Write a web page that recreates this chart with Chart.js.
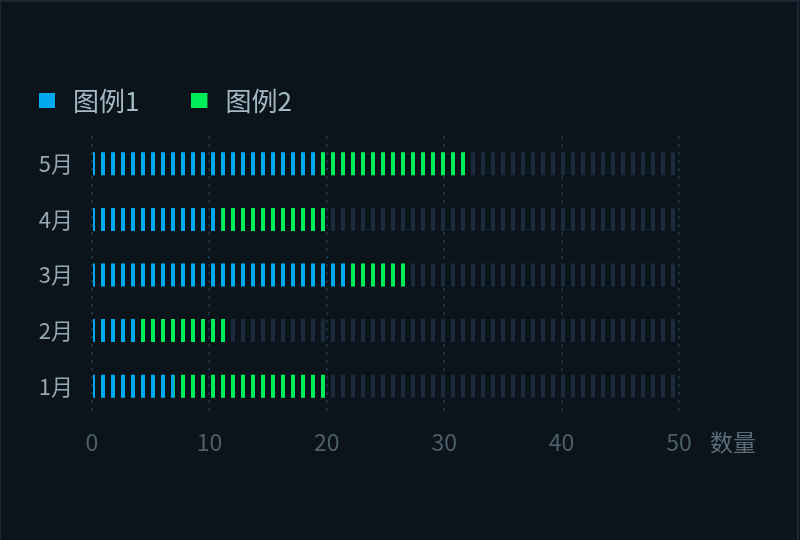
<!DOCTYPE html>
<html>
<head>
<meta charset="utf-8">
<script src="https://cdn.jsdelivr.net/npm/chart.js@4/dist/chart.umd.min.js"></script>
<style>
html,body{margin:0;padding:0;background:#0b141b;overflow:hidden}
#wrap{width:800px;height:540px;position:relative}
canvas{display:block}
</style>
</head>
<body>
<div id="wrap"><canvas id="c" width="800" height="540"></canvas></div>
<script>
// ---- data ----
const categories = ['1月', '2月', '3月', '4月', '5月'];
const series1 = [7, 4, 22, 11, 19];
const series2 = [13, 7.5, 5, 9, 13];
const capacity = [50, 50, 50, 50, 50];
const seriesNames = ['图例1', '图例2'];
const capacityName = '总量';
const xTickMin = 0;
const xTickMax = 50;
const xTickStep = 10;
const axisName = '数量';

// ---- styles ----
const FONT = '"Noto Sans CJK SC", "Noto Sans", sans-serif';
const BG = '#0b141b';
const FRAME = '#1a2735';
const BLUE = '#00a9ee';
const GREEN = '#00ee5a';
const TRACK = '#1b2b3c';
const GRID = '#1f2d3b';
const LEGEND_TEXT = '#a6bac6';
const Y_TEXT = '#95a8b3';
const X_TEXT = '#4d5f6b';
const NAME_TEXT = '#5b6c78';
const STRIPE_PERIOD = 10;
const STRIPE_W = 4;
const PAD = {left: -13, top: 36, right: 121, bottom: 0};
const LEGEND_FONT = 26;
const LEGEND_GAP = 52;

Chart.defaults.font.family = FONT;

const patternCache = {};
function stripes(chart, color) {
  const left = chart.chartArea ? chart.chartArea.left : 0;
  const key = color + '@' + left;
  if (!patternCache[key]) {
    const c = document.createElement('canvas');
    c.width = STRIPE_PERIOD; c.height = 4;
    const g = c.getContext('2d');
    g.fillStyle = color;
    g.fillRect(0, 0, STRIPE_W, 4);
    const p = chart.ctx.createPattern(c, 'repeat');
    p.setTransform(new DOMMatrix().translate(left - 1, 0));
    patternCache[key] = p;
  }
  return patternCache[key];
}

function legendIcon(color) {
  const c = document.createElement('canvas');
  c.width = 21; c.height = 16;
  const g = c.getContext('2d');
  g.fillStyle = color;
  g.fillRect(0, 0, 16, 15);
  return c;
}
const icons = [legendIcon(BLUE), legendIcon(GREEN)];

const framePlugin = {
  id: 'frame',
  beforeDraw(chart) {
    const {ctx, width, height} = chart;
    ctx.save();
    ctx.fillStyle = BG;
    ctx.fillRect(0, 0, width, height);
    ctx.fillStyle = FRAME;
    ctx.fillRect(0, 0, width, 2);
    ctx.fillRect(0, 0, 1, height);
    ctx.fillRect(width - 3, 0, 2, height);
    ctx.restore();
  }
};

const axisNamePlugin = {
  id: 'axisName',
  afterDraw(chart) {
    const xs = chart.scales.x;
    const f = Chart.helpers.toFont(xs.options.ticks.font);
    const ctx = chart.ctx;
    ctx.save();
    ctx.font = f.string;
    ctx.fillStyle = NAME_TEXT;
    ctx.textAlign = 'left';
    ctx.textBaseline = 'middle';
    ctx.fillText(axisName, xs.right + 31, xs.top + xs.options.ticks.padding + f.lineHeight / 2);
    ctx.restore();
  }
};

const barCommon = {
  barThickness: 23,
  grouped: false,
  borderWidth: 0,
  inflateAmount: 0
};

new Chart(document.getElementById('c'), {
  type: 'bar',
  data: {
    labels: categories,
    datasets: [
      Object.assign({label: seriesNames[0], data: series1, stack: 'v', order: 1,
        backgroundColor: (c) => stripes(c.chart, BLUE)}, barCommon),
      Object.assign({label: seriesNames[1], data: series2, stack: 'v', order: 2,
        backgroundColor: (c) => stripes(c.chart, GREEN)}, barCommon),
      Object.assign({label: capacityName, data: capacity, stack: 'bg', order: 3,
        backgroundColor: (c) => stripes(c.chart, TRACK)}, barCommon)
    ]
  },
  options: {
    indexAxis: 'y',
    responsive: false,
    animation: false,
    events: [],
    layout: {padding: PAD},
    plugins: {
      tooltip: {enabled: false},
      title: {display: true, text: '', font: {size: 2, lineHeight: 1}, padding: {top: 5, bottom: 5}, weight: 2000},
      legend: {
        display: true,
        position: 'top',
        align: 'start',
        weight: 3000,
        labels: {
          usePointStyle: true,
          pointStyleWidth: 21,
          padding: LEGEND_GAP,
          color: LEGEND_TEXT,
          font: {size: LEGEND_FONT},
          generateLabels: (chart) => [0, 1].map(i => ({
            text: chart.data.datasets[i].label,
            pointStyle: icons[i],
            datasetIndex: i,
            hidden: false,
            fontColor: LEGEND_TEXT,
            fillStyle: i === 0 ? BLUE : GREEN,
            strokeStyle: 'transparent',
            lineWidth: 0
          }))
        }
      }
    },
    scales: {
      x: {
        type: 'linear',
        stacked: true,
        min: xTickMin,
        max: xTickMax,
        ticks: {stepSize: xTickStep, color: X_TEXT, font: {size: 23}, padding: 14},
        grid: {color: GRID, lineWidth: 2, drawTicks: false},
        border: {display: false, dash: [3, 5]},
        afterFit: (s) => { s.height = 126; }
      },
      y: {
        type: 'category',
        reverse: true,
        grid: {display: false, drawTicks: false},
        border: {display: false},
        ticks: {color: Y_TEXT, font: {size: 22}, padding: 19},
        afterFit: (s) => { s.width = 92 - PAD.left; }
      }
    }
  },
  plugins: [framePlugin, axisNamePlugin]
});
</script>
</body>
</html>
